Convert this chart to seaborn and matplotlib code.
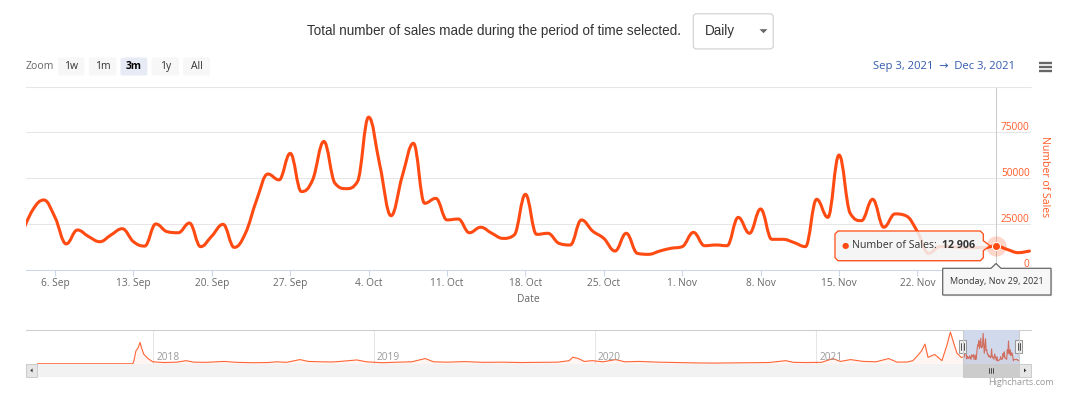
import matplotlib
matplotlib.use("Agg")
import matplotlib.pyplot as plt
import matplotlib.dates as mdates
from matplotlib.path import Path
from matplotlib.patches import PathPatch, Rectangle, FancyBboxPatch, Polygon
from matplotlib.transforms import blended_transform_factory
import seaborn as sns
import numpy as np
import pandas as pd

# daily number of sales in the zoomed 3 month window (3 Sep - 2 Dec 2021)
sales_start = "2021-09-03"
sales = [19000, 32500, 38000, 28500, 14000, 21600, 18000, 15200, 18900, 22300,
         15200, 12800, 24900, 20700, 20100, 25400, 12500, 18300, 24700, 12100,
         19800, 38000, 52200, 49000, 63500, 42600, 49000, 70000,            # Sep
         47100, 44200, 48000, 83300, 57000, 29400, 51000, 69000, 36200, 38900,
         27100, 27600, 20100, 23100, 19800, 17000, 18900, 41100, 19200, 19800,
         14300, 13400, 27100, 21000, 17000, 10100, 19800, 8800, 8300, 10100,
         11600,                                                             # Oct
         12500, 20300, 13000, 13400, 13000, 28500, 19800, 33100, 16500, 16500,
         14700, 12500, 38400, 28500, 62600, 30700, 26700, 38400, 23100, 30400,
         29300, 20700, 8800, 12500, 12500, 12000, 12000, 12000, 12906, 11000,  # Nov
         9200, 10100]                                                       # Dec
sales_dates = pd.date_range(sales_start, periods=len(sales), freq="D")

# coarse readout of the long history shown in the navigator strip
history_dates = pd.to_datetime([
    "2017-06-24", "2017-11-29", "2017-12-01", "2017-12-04", "2017-12-06", "2017-12-08",
    "2017-12-11", "2017-12-13", "2017-12-17", "2017-12-24", "2018-01-01", "2018-01-20",
    "2018-02-10", "2018-02-25", "2018-03-10", "2018-03-30", "2018-04-29", "2018-05-20",
    "2018-06-15", "2018-07-10", "2018-07-25", "2018-08-10", "2018-09-01", "2018-09-15",
    "2018-10-05", "2018-10-25", "2018-11-10", "2018-12-04", "2018-12-20", "2019-01-15",
    "2019-02-10", "2019-03-05", "2019-03-27", "2019-04-10", "2019-05-01", "2019-06-01",
    "2019-07-01", "2019-08-01", "2019-09-01", "2019-10-01", "2019-11-01", "2019-11-20",
    "2019-11-26", "2019-12-05", "2019-12-15", "2019-12-28", "2020-01-15", "2020-02-05",
    "2020-02-20", "2020-03-15", "2020-04-15", "2020-05-15", "2020-06-15", "2020-07-15",
    "2020-08-15", "2020-09-15", "2020-10-15", "2020-11-12", "2020-11-25", "2020-12-15",
    "2021-01-10", "2021-01-29", "2021-02-10", "2021-02-27", "2021-03-20", "2021-04-10",
    "2021-05-01", "2021-05-15", "2021-06-01", "2021-06-10", "2021-06-18", "2021-06-24",
    "2021-06-30", "2021-07-05", "2021-07-16", "2021-07-28", "2021-08-05", "2021-08-11",
    "2021-08-17", "2021-08-22", "2021-08-29"])
history_sales = [
    700, 700, 10000, 35000, 40000, 45000,
    58800, 46000, 27000, 14800, 6000, 4000,
    5000, 9100, 5000, 4500, 7000, 4500,
    3500, 4000, 6000, 4500, 12000, 7000,
    6000, 5500, 7500, 11000, 6000, 3500,
    5000, 6000, 14800, 6000, 5000, 6500,
    4500, 5000, 4000, 4500, 5000, 9000,
    18500, 15000, 7000, 9100, 6000, 12000,
    6000, 7000, 5000, 4000, 3000, 2500,
    3000, 3500, 4000, 9100, 4500, 4000,
    4500, 14800, 7000, 12000, 7000, 6000,
    14800, 5000, 5500, 9100, 23200, 35000,
    54100, 18000, 26000, 9100, 50000, 86800,
    54000, 28800, 18000]

tick_dates = pd.date_range("2021-09-06", "2021-11-29", freq="7D")
# the 29 Nov label sits under the crosshair date label, so it is not shown
tick_labels = [f"{d.day}. {d:%b}" for d in tick_dates[:-1]] + [""]
y_ticks = [0, 25000, 50000, 75000, 100000]
y_labels = ["0", "25000", "50000", "75000"]
nav_years = [2018, 2019, 2020, 2021]
zoom_buttons = ["1w", "1m", "3m", "1y", "All"]
hover_date = pd.Timestamp("2021-11-29")
hover_value = 12906

ORANGE = "#ff4a12"
GREY = "#666666"

sns.set_theme(style="white")
plt.rcParams["font.family"] = ["Open Sans", "DejaVu Sans"]

W, H = 1080, 396
fig = plt.figure(figsize=(W / 100, H / 100), dpi=100)


def box(l, t, r, b):
    return [l / W, 1 - b / H, (r - l) / W, (b - t) / H]


def highcharts_spline(xs, ys, smoothing=1.5):
    # same bezier control points Highcharts uses for its 'spline' series
    denom = smoothing + 1
    n = len(xs)
    verts = [(xs[0], ys[0])]
    codes = [Path.MOVETO]
    right = [None] * n
    for i in range(1, n):
        px, py = xs[i], ys[i]
        lx, ly = xs[i - 1], ys[i - 1]
        lcx, lcy = px, py
        if i < n - 1:
            nx, ny = xs[i + 1], ys[i + 1]
            lcx = (smoothing * px + lx) / denom
            lcy = (smoothing * py + ly) / denom
            rcx = (smoothing * px + nx) / denom
            rcy = (smoothing * py + ny) / denom
            corr = (rcy - lcy) * (rcx - px) / (rcx - lcx) + py - rcy
            lcy += corr
            rcy += corr
            if lcy > ly and lcy > py:
                lcy = max(ly, py); rcy = 2 * py - lcy
            elif lcy < ly and lcy < py:
                lcy = min(ly, py); rcy = 2 * py - lcy
            if rcy > ny and rcy > py:
                rcy = max(ny, py); lcy = 2 * py - rcy
            elif rcy < ny and rcy < py:
                rcy = min(ny, py); lcy = 2 * py - rcy
            right[i] = (rcx, rcy)
        prev = right[i - 1] if right[i - 1] is not None else (lx, ly)
        verts += [prev, (lcx, lcy), (px, py)]
        codes += [Path.CURVE4] * 3
    return Path(verts, codes)


# ---------------- main chart ----------------
ax = fig.add_axes(box(25.8, 86.6, 1031, 269.5))
sep6 = mdates.date2num(pd.Timestamp("2021-09-06"))
ax.set_xlim(sep6 - 2.61, sep6 + 87.14)
ax.set_ylim(0, 100000)
ax.set_yticks(y_ticks)
ax.set_yticklabels([])
ax.tick_params(axis="y", left=False, right=False, length=0)
ax.grid(axis="y", color="#e6e6e6", lw=0.75)
ax.grid(axis="x", visible=False)
ax.axhline(100000, color="#e6e6e6", lw=0.75, clip_on=False)
ax.set_xticks(mdates.date2num(tick_dates))
ax.set_xticklabels(tick_labels)
ax.tick_params(axis="x", bottom=True, length=4.6, width=0.75, color="#ccd6eb",
               pad=1.5, labelsize=7.3, labelcolor=GREY, direction="out")
for s in ["top", "left", "right"]:
    ax.spines[s].set_visible(False)
ax.spines["bottom"].set_color("#ccd6eb")
ax.spines["bottom"].set_linewidth(0.75)

for v, lab in zip(y_ticks, y_labels):
    ax.annotate(lab, xy=(1, v), xycoords=("axes fraction", "data"),
                xytext=(-1, 1.6), textcoords="offset points", ha="right",
                va="baseline", color="#ff5a26", fontsize=7.3)

hover_x = mdates.date2num(hover_date)
ax.axvline(hover_x, color="#cccccc", lw=0.75, zorder=1.5)

xs = mdates.date2num(sales_dates)
ax.add_patch(PathPatch(highcharts_spline(list(xs), list(sales)), fill=False,
                       edgecolor=ORANGE, lw=2.2, capstyle="round",
                       joinstyle="round", zorder=3))
ax.plot([hover_x], [hover_value], "o", ms=14.5, color=ORANGE, alpha=0.22,
        mew=0, zorder=4, clip_on=False)
ax.plot([hover_x], [hover_value], "o", ms=5.8, color=ORANGE, mec="white",
        mew=0.7, zorder=5, clip_on=False)

# ---------------- navigator ----------------
nav = fig.add_axes(box(37.2, 329.6, 1019.4, 364))
nav_dates = list(mdates.date2num(history_dates)) + list(xs)
nav_values = list(history_sales) + list(sales)
nav.fill_between(nav_dates, nav_values, color=ORANGE, alpha=0.05, lw=0)
sns.lineplot(x=nav_dates, y=nav_values, ax=nav, color=ORANGE, lw=0.8, alpha=0.85)
nav.set_xlim(mdates.date2num(pd.Timestamp("2017-06-24")),
             mdates.date2num(pd.Timestamp("2021-12-03")))
nav.set_ylim(0, 93600)
nav.axis("off")
tr = blended_transform_factory(nav.transData, nav.transAxes)
for yr in nav_years:
    yx = mdates.date2num(pd.Timestamp(f"{yr}-01-01"))
    nav.axvline(yx, color="#e6e6e6", lw=0.75, zorder=0)
    nav.text(yx + 5.5, 0.2, str(yr), transform=tr, ha="left", va="center",
             color="#999999", fontsize=7.3)

# ---------------- overlay (header, scrollbar, tooltip) ----------------
ov = fig.add_axes([0, 0, 1, 1])
ov.set_xlim(0, W)
ov.set_ylim(H, 0)
ov.axis("off")
ov.set_zorder(5)

ov.text(493.8, 31, "Total number of sales made during the period of time selected.",
        ha="center", va="center", family=["Liberation Sans"], fontsize=9.75,
        color="#333333")
ov.add_patch(FancyBboxPatch((693.3, 13.8), 79.9, 35.1,
                            boxstyle="round,pad=0,rounding_size=3",
                            ec="#cccccc", fc="white", lw=0.75))
ov.text(704.6, 31, "Daily", ha="left", va="center", family=["Liberation Sans"],
        fontsize=9.75, color="#333333")
ov.add_patch(Polygon([(759.5, 29.2), (767.5, 29.2), (763.5, 33.2)], fc=GREY, ec="none"))

ov.text(25.8, 66.8, "Zoom", ha="left", va="center", fontsize=7.5, color=GREY)
btn_edges = [(57.9, 84.4), (88.9, 116.4), (120.5, 147.4), (151.5, 179), (183.2, 210)]
for lab, (l, r) in zip(zoom_buttons, btn_edges):
    sel = lab == "3m"
    ov.add_patch(FancyBboxPatch((l, 57.5), r - l, 18, boxstyle="round,pad=0,rounding_size=2",
                                fc="#e6ebf5" if sel else "#f7f7f7", ec="none"))
    ov.text((l + r) / 2, 66.8, lab, ha="center", va="center", fontsize=7.5,
            color="#000000" if sel else "#333333",
            fontweight="bold" if sel else "normal")

ov.text(1015.3, 67, "Sep 3, 2021  \u2192  Dec 3, 2021", ha="right", va="center",
        fontsize=8.1, color="#335cad")
for yy in (62.5, 66.5, 70.5):
    ov.plot([1038.5, 1051.5], [yy, yy], color=GREY, lw=1.7, solid_capstyle="butt")

ov.text(528.4, 299, "Date", ha="center", va="center", fontsize=7.4, color=GREY)
ov.text(1045, 177, "Number of Sales", ha="center", va="center", rotation=270,
        fontsize=7.6, color="#ff5a26")

# navigator outline, mask and handles
m0, m1 = 962.6, 1018.7
ov.plot([25.8, m0], [329.6, 329.6], color="#cccccc", lw=0.75)
ov.plot([m1, 1030.8], [329.6, 329.6], color="#cccccc", lw=0.75)
ov.plot([m0, m0], [329.6, 364], color="#cccccc", lw=0.75)
ov.plot([m1, m1], [329.6, 364], color="#cccccc", lw=0.75)
ov.add_patch(Rectangle((m0, 329.6), m1 - m0, 34.4, fc=(102 / 255, 133 / 255, 194 / 255, 0.3),
                       ec="none"))
for hx in (m0, m1):
    ov.add_patch(Rectangle((hx - 3.5, 339.6), 7, 13.8, fc="#f2f2f2", ec="#999999", lw=0.75))
    for dx in (-1.2, 1.2):
        ov.plot([hx + dx, hx + dx], [342.6, 350.4], color="#333333", lw=0.6)

# scrollbar
ov.add_patch(Rectangle((25.8, 364), 1005, 12.8, fc="#f2f2f2", ec="none"))
ov.add_patch(Rectangle((m0, 364), m1 - m0, 12.8, fc="#cccccc", ec="#cccccc", lw=0.75))
for dx in (-2, 0, 2):
    cx = (m0 + m1) / 2 + dx
    ov.plot([cx, cx], [368.2, 372.6], color="#333333", lw=0.6)
for l in (25.8, 1019.4):
    ov.add_patch(Rectangle((l, 364), 11.4, 12.8, fc="#e6e6e6", ec="#cccccc", lw=0.75))
ov.add_patch(Polygon([(30.3, 370.4), (32.6, 368.4), (32.6, 372.4)], fc="#333333", ec="none"))
ov.add_patch(Polygon([(1026.3, 370.4), (1024, 368.4), (1024, 372.4)], fc="#333333", ec="none"))
ov.text(1054, 382.7, "Highcharts.com", ha="right", va="center", fontsize=6.5, color="#999999")

# tooltip callout
tip = [(838, 231), (980.3, 231), (983.3, 234), (983.3, 240.7), (990, 245.7),
       (983.3, 250.7), (983.3, 257.7), (980.3, 260.7), (838, 260.7), (835, 257.7), (835, 234)]
ov.add_patch(Polygon([(x + 1, y + 1) for x, y in tip], fc=(0, 0, 0, 0.08), ec="none"))
ov.add_patch(Polygon(tip, fc=(247 / 255, 247 / 255, 247 / 255, 0.85), ec=ORANGE, lw=0.9))
ov.text(845, 245.8, "\u25cf", ha="center", va="center", fontsize=6, color=ORANGE,
        family=["DejaVu Sans"])
ov.text(852.5, 245.8, "Number of Sales:", ha="left", va="center", fontsize=7.7,
        color="#333333")
ov.text(975.5, 245.8, f"{hover_value:,}".replace(",", " "), ha="right", va="center",
        fontsize=7.7, color="#333333", fontweight="bold")

# date label under the crosshair
lab = [(942.7, 268.3), (991, 268.3), (996, 263.5), (1001, 268.3), (1051, 268.3),
       (1051, 295), (942.7, 295)]
ov.add_patch(Polygon([(x + 1.2, y + 1.2) for x, y in lab], fc=(0, 0, 0, 0.12), ec="none"))
ov.add_patch(Polygon(lab, fc="#f7f7f7", ec="#666666", lw=0.9))
ov.text(996.8, 282, f"{hover_date:%A}, {hover_date:%b} {hover_date.day}, {hover_date.year}",
        ha="center", va="center", fontsize=6.5, color="#333333")

fig.savefig("out.png", dpi=100, facecolor="white")
